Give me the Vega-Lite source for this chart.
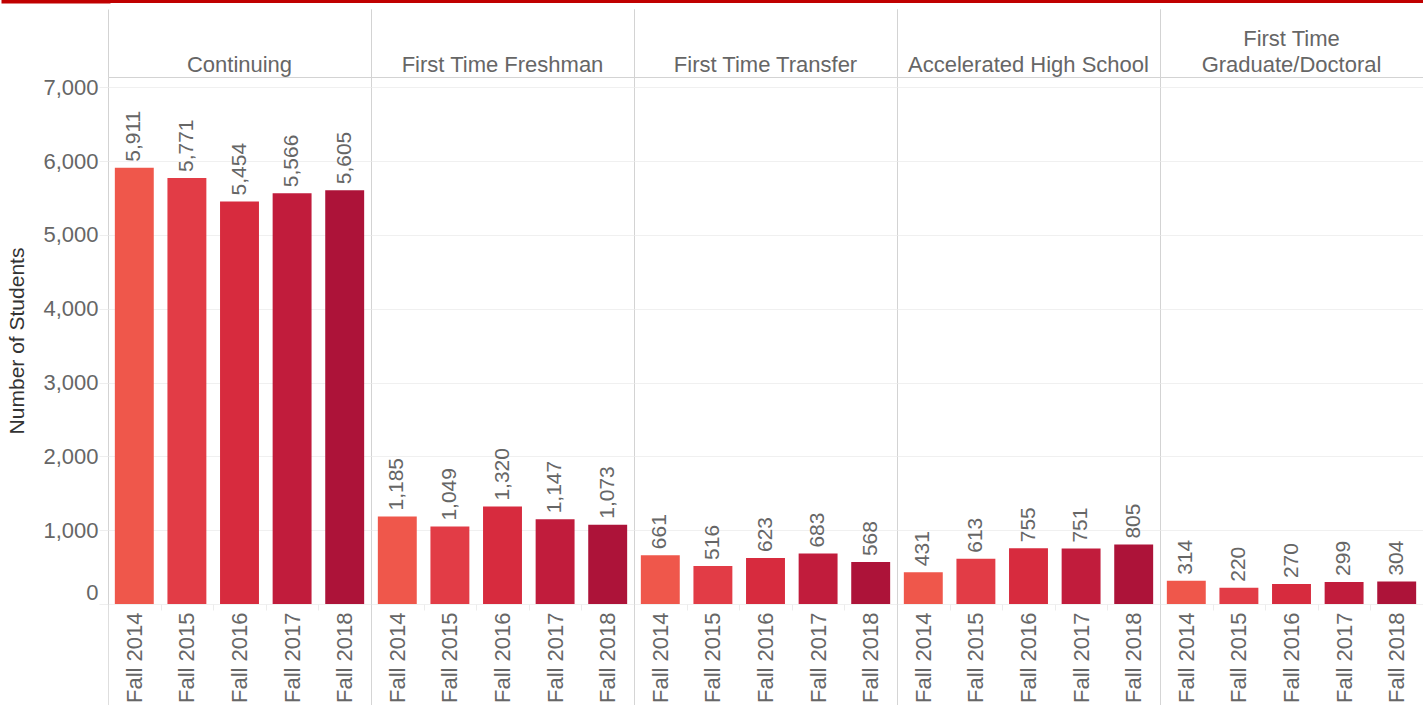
{
  "$schema": "https://vega.github.io/schema/vega-lite/v6.json",
  "padding": {"top": -2, "left": 0, "right": 0, "bottom": 0},
  "background": "white",
  "spacing": 4,
  "config": {
    "font": "Liberation Sans",
    "view": {"stroke": "#d3d3d3", "strokeWidth": 1},
    "axis": {"labelFont": "Liberation Sans", "titleFont": "Liberation Sans"},
    "header": {"labelFont": "Liberation Sans"}
  },
  "datasets": {
    "students": [
      {"category": "Continuing", "term": "Fall 2014", "students": 5911},
      {"category": "Continuing", "term": "Fall 2015", "students": 5771},
      {"category": "Continuing", "term": "Fall 2016", "students": 5454},
      {"category": "Continuing", "term": "Fall 2017", "students": 5566},
      {"category": "Continuing", "term": "Fall 2018", "students": 5605},
      {"category": "First Time Freshman", "term": "Fall 2014", "students": 1185},
      {"category": "First Time Freshman", "term": "Fall 2015", "students": 1049},
      {"category": "First Time Freshman", "term": "Fall 2016", "students": 1320},
      {"category": "First Time Freshman", "term": "Fall 2017", "students": 1147},
      {"category": "First Time Freshman", "term": "Fall 2018", "students": 1073},
      {"category": "First Time Transfer", "term": "Fall 2014", "students": 661},
      {"category": "First Time Transfer", "term": "Fall 2015", "students": 516},
      {"category": "First Time Transfer", "term": "Fall 2016", "students": 623},
      {"category": "First Time Transfer", "term": "Fall 2017", "students": 683},
      {"category": "First Time Transfer", "term": "Fall 2018", "students": 568},
      {"category": "Accelerated High School", "term": "Fall 2014", "students": 431},
      {"category": "Accelerated High School", "term": "Fall 2015", "students": 613},
      {"category": "Accelerated High School", "term": "Fall 2016", "students": 755},
      {"category": "Accelerated High School", "term": "Fall 2017", "students": 751},
      {"category": "Accelerated High School", "term": "Fall 2018", "students": 805},
      {"category": "First Time Graduate/Doctoral", "term": "Fall 2014", "students": 314},
      {"category": "First Time Graduate/Doctoral", "term": "Fall 2015", "students": 220},
      {"category": "First Time Graduate/Doctoral", "term": "Fall 2016", "students": 270},
      {"category": "First Time Graduate/Doctoral", "term": "Fall 2017", "students": 299},
      {"category": "First Time Graduate/Doctoral", "term": "Fall 2018", "students": 304}
    ],
    "banner": [{"k": 1}]
  },
  "vconcat": [
    {
      "data": {"name": "banner"},
      "width": 1315,
      "height": 4,
      "view": {"fill": "#C00000", "stroke": null},
      "mark": {"type": "point", "opacity": 0, "size": 0},
      "encoding": {
        "y": {
          "field": "k",
          "type": "quantitative",
          "scale": {"domain": [0, 2]},
          "axis": {"title": null, "labels": false, "domain": false, "grid": false, "values": [1], "tickSize": 105, "tickWidth": 4, "tickCap": "square", "tickColor": "#C00000"}
        }
      }
    },
    {
      "data": {"name": "students"},
      "bounds": "flush",
      "spacing": 0,
      "facet": {
        "column": {
          "field": "category",
          "type": "nominal",
          "sort": ["Continuing", "First Time Freshman", "First Time Transfer", "Accelerated High School", "First Time Graduate/Doctoral"],
          "title": null,
          "header": {
            "labelFontSize": 22,
            "labelColor": "#666666",
            "labelPadding": -22,
            "labelBaseline": "bottom",
            "labelLineHeight": 26,
            "labelExpr": "datum.value == 'First Time Graduate/Doctoral' ? ['First Time', 'Graduate/Doctoral'] : datum.value"
          }
        }
      },
      "resolve": {"scale": {"x": "independent"}},
      "spec": {
        "width": 263,
        "height": 527,
        "encoding": {
          "y": {
            "field": "students",
            "type": "quantitative",
            "scale": {"domain": [0, 7140], "nice": false},
            "axis": {
              "title": "Number of Students",
              "values": [0, 1000, 2000, 3000, 4000, 5000, 6000, 7000],
              "format": ",.0f",
              "labelFontSize": 22,
              "labelColor": "#666666",
              "labelPadding": 1,
              "labelBaseline": {"condition": {"test": "datum.value === 0", "value": "bottom"}, "value": "middle"},
              "tickSize": 9,
              "tickColor": "#eeeeee",
              "gridColor": "#f0f0f0",
              "domain": false,
              "titleFontSize": 21,
              "titleFontWeight": "normal",
              "titleColor": "#333333",
              "titlePadding": 15
            }
          }
        },
        "layer": [
          {
            "mark": {"type": "bar", "width": {"band": 0.74}},
            "encoding": {
              "x": {
                "field": "term",
                "type": "ordinal",
                "scale": {"paddingInner": 0, "paddingOuter": 0},
                "axis": {
                  "orient": "bottom",
                  "title": null,
                  "labelAngle": 270,
                  "labelFontSize": 22,
                  "labelColor": "#666666",
                  "domain": false,
                  "tickBand": "extent",
                  "tickSize": 101,
                  "tickColor": {"condition": {"test": "datum.value === 'Fall 2018' || datum.extra", "value": "#d3d3d3"}, "value": "#ececec"},
                  "tickDash": {"condition": {"test": "datum.value === 'Fall 2018' || datum.extra", "value": [1, 0]}, "value": [6, 400]},
                  "labelPadding": -93
                }
              },
              "color": {
                "field": "term",
                "type": "ordinal",
                "scale": {"domain": ["Fall 2014", "Fall 2015", "Fall 2016", "Fall 2017", "Fall 2018"], "range": ["#EF574B", "#E23C46", "#D72B3E", "#C11C3C", "#AD1339"]},
                "legend": null
              }
            }
          },
          {
            "mark": {"type": "text", "angle": 270, "align": "left", "baseline": "middle", "dx": 6, "fontSize": 21, "color": "#666666"},
            "encoding": {
              "x": {
                "field": "term",
                "type": "ordinal",
                "scale": {"paddingInner": 0, "paddingOuter": 0},
                "axis": {
                  "orient": "top",
                  "title": null,
                  "labels": false,
                  "domain": false,
                  "tickBand": "extent",
                  "tickSize": 68,
                  "tickColor": {"condition": {"test": "datum.value === 'Fall 2018' || datum.extra", "value": "#d3d3d3"}, "value": "transparent"}
                }
              },
              "text": {"field": "students", "type": "quantitative", "format": ","}
            }
          }
        ]
      }
    }
  ]
}
